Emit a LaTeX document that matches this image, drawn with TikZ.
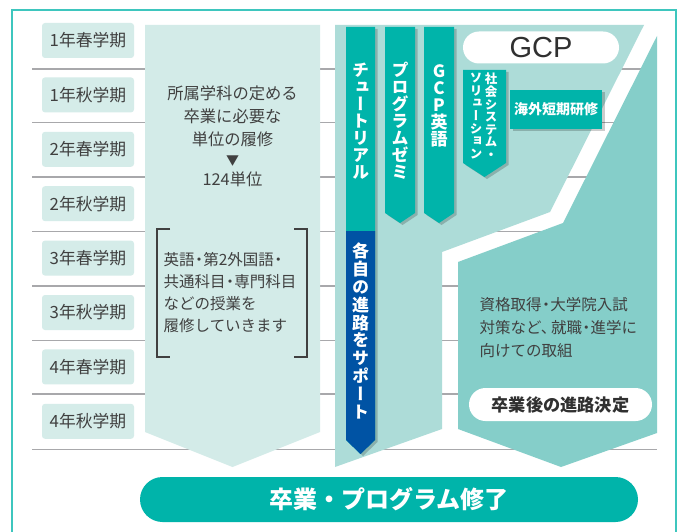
\documentclass[tikz,border=0pt]{standalone}
\usepackage{fontspec}
\setmainfont{Noto Sans CJK JP}
\newfontfamily\vjp[RawFeature=+vert]{Noto Sans CJK JP}
\newfontfamily\gcpfont{Liberation Sans}
\newcommand\nk{\kern-0.22em・\kern-0.22em}
\newcommand\tk{、\kern-0.35em}
\usetikzlibrary{shadows}
\definecolor{tealC}{HTML}{00B4AA}
\definecolor{frameC}{HTML}{3EC6BE}
\definecolor{lblC}{HTML}{D5ECE9}
\definecolor{colL}{HTML}{D3EBE8}
\definecolor{colA}{HTML}{ADDCD8}
\definecolor{colB}{HTML}{85CEC9}
\definecolor{blueC}{HTML}{0053A4}
\definecolor{txtC}{HTML}{404040}
\definecolor{darkC}{HTML}{303030}
\definecolor{lineC}{HTML}{A8A8AB}
\tikzset{
  periodbox/.style={fill=lblC, rounded corners=3pt, minimum width=92pt, minimum height=35pt, inner sep=0pt, text=txtC, font=\fontsize{16.8}{16.8}\selectfont},
  gridline/.style={draw=lineC},
  barshadow/.style={drop shadow={shadow xshift=2.5pt, shadow yshift=-2pt, fill=black, opacity=0.2}},
  vtxt/.style={text=white, align=center, inner sep=0pt, font=\vjp\bfseries\fontsize{17}{17}\selectfont},
  bodytxt/.style={text=txtC, inner sep=0pt},
  pill/.style={rounded corners=#1, inner sep=0pt}
}
\begin{document}
\begin{tikzpicture}[x=1pt,y=-1pt]
\useasboundingbox (0,0) rectangle (682,532);
\fill[white] (0,0) rectangle (682,532);
% frame
\draw[frameC, line width=1.5pt] (12,540) -- (12,10) -- (676,10) -- (676,540);
% grid lines
\foreach \yy/\ww in {69/1.8,123/1,177/1.8,231/1,286/1.8,340/1,394/1.8,449/1}
  \draw[gridline, line width=\ww pt] (32,\yy) -- (657,\yy);
% period labels
\foreach \i/\t in {0/1年春学期,1/1年秋学期,2/2年春学期,3/2年秋学期,4/3年春学期,5/3年秋学期,6/4年春学期,7/4年秋学期}
  \node[periodbox] (p\i) at (88,{40.5+54.4*\i}) {\t};
% left column
\fill[colL] (145,25) -- (320,25) -- (320,432) -- (232.5,467) -- (145,432) -- cycle;
\node[bodytxt, align=center, font=\fontsize{16.3}{23}\selectfont] (req) at (232.5,136.5)
  {所属学科の定める\\卒業に必要な\\単位の履修\\[-3pt]{\fontsize{13}{13}\selectfont ▼}\\[-3pt]124単位};
\draw[txtC, line width=1.2pt] (170,229) -- (157,229) -- (157,357) -- (170,357);
\draw[txtC, line width=1.2pt] (294,229) -- (307,229) -- (307,357) -- (294,357);
\node[bodytxt, align=left, anchor=north west, font=\fontsize{15.5}{22}\selectfont] (courses) at (163.5,252)
  {英語\nk 第2外国語\nk\\共通科目\nk 専門科目\\などの授業を\\履修していきます};
% shape A
\fill[colA] (335,25) -- (644,25) -- (550,212) -- (442,252) -- (442,429) -- (335,467) -- cycle;
% shape B
\fill[colB] (657,36) -- (657,433) -- (561,467) -- (458,429) -- (458,262) -- (563,223) -- cycle;
% bars
\fill[tealC, barshadow] (346,27) -- (375,27) -- (375,440) -- (360.5,454) -- (346,440) -- cycle;
\fill[blueC] (346,231) -- (375,231) -- (375,440) -- (360.5,454) -- (346,440) -- cycle;
\fill[tealC, barshadow] (385,27) -- (415,27) -- (415,213) -- (400,223) -- (385,213) -- cycle;
\fill[tealC, barshadow] (424,27) -- (454,27) -- (454,213) -- (439,223) -- (424,213) -- cycle;
\fill[tealC, barshadow] (463,70) -- (506,70) -- (506,163) -- (484.5,177) -- (463,163) -- cycle;
\node[vtxt] (tut) at (360.5,121) {チ\\ュ\\ー\\ト\\リ\\ア\\ル};
\node[vtxt] (sem) at (400,121) {プ\\ロ\\グ\\ラ\\ム\\ゼ\\ミ};
\node[vtxt] (eng) at (439,106) {G\\C\\P\\英\\語};
\node[vtxt, font=\vjp\bfseries\fontsize{17}{17.8}\selectfont] (sup) at (360.5,331) {各\\自\\の\\進\\路\\を\\サ\\ポ\\ー\\ト};
\node[vtxt, anchor=north, font=\vjp\bfseries\fontsize{12.5}{12.6}\selectfont] (soc1) at (491,73) {社\\会\\シ\\ス\\テ\\ム\\・};
\node[vtxt, anchor=north, font=\vjp\bfseries\fontsize{12.5}{12.6}\selectfont] (soc2) at (476,73) {ソ\\リ\\ュ\\ー\\シ\\ョ\\ン};
% overseas
\node[fill=tealC, barshadow, minimum width=92pt, minimum height=39pt, inner sep=0pt, text=white, font=\bfseries\fontsize{14}{14}\selectfont] (abroad) at (556,109.5) {海外短期研修};
% GCP pill
\node[pill=16pt, fill=white, minimum width=156pt, minimum height=32pt, text=darkC, font=\gcpfont\fontsize{29}{29}\selectfont] (gcp) at (541,47.5) {GCP};
% right text
\node[bodytxt, align=left, anchor=north west, font=\fontsize{15.5}{23}\selectfont] (career) at (479.5,297)
  {資格取得\nk 大学院入試\\対策など\tk 就職\nk 進学に\\向けての取組};
\node[pill=16.5pt, fill=white, minimum width=183pt, minimum height=33pt, text=darkC, font=\bfseries\fontsize{17.2}{17.2}\selectfont] (after) at (560.5,404.5) {卒業後の進路決定};
% bottom pill
\node[pill=22.5pt, fill=tealC, minimum width=498pt, minimum height=45pt, text=white, font=\bfseries\fontsize{24}{24}\selectfont] (grad) at (389,499.5) {卒業・プログラム修了};
\end{tikzpicture}
\end{document}
